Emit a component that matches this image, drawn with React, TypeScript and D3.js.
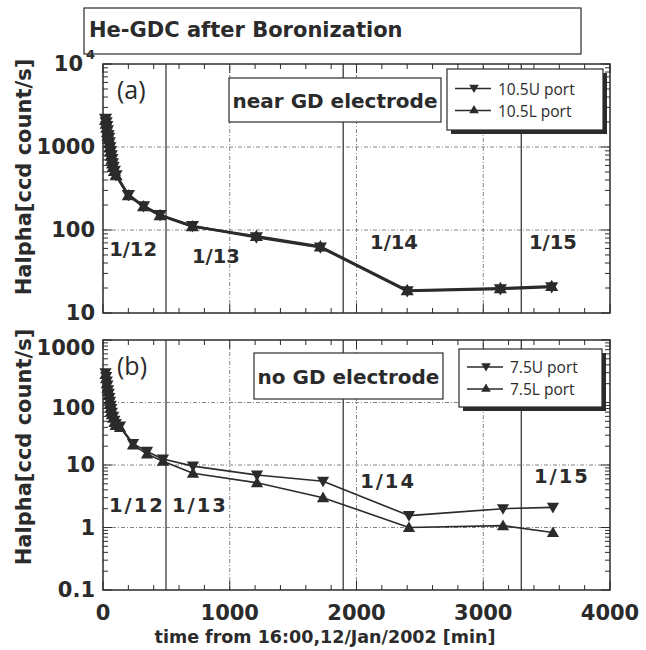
import * as d3 from "d3"
import { useMemo } from "react"

/* ---------------- data ---------------- */

// time from 16:00 12/Jan/2002 [min]
const earlyTimesA = [20, 25, 30, 35, 40, 45, 50, 55, 60, 65, 70, 75, 80, 90, 103]
const lateTimesA = [200, 320, 450, 705, 1210, 1715, 2400, 3135, 3540]
const upperA = [2200, 2000, 1800, 1600, 1400, 1300, 1150, 1000, 900, 800, 720, 640, 580, 520, 460,
  265, 195, 152, 112, 82, 62, 18.4, 19.5, 20.6]
const lowerA = [2100, 1900, 1700, 1500, 1350, 1250, 1100, 980, 870, 780, 700, 630, 570, 510, 455,
  260, 192, 150, 110, 84, 63, 18.7, 19.8, 21]

const earlyTimesB = [20, 25, 30, 35, 40, 45, 50, 55, 60, 65, 70, 80, 90, 100, 134]
const lateTimesB = [237, 347, 473, 710, 1215, 1736, 2414, 3156, 3550]
const upperB = [300, 260, 220, 190, 160, 140, 120, 105, 90, 80, 70, 60, 52, 46, 42,
  22, 16.5, 12.5, 9.6, 6.9, 5.5, 1.55, 2.0, 2.1]
const lowerB = [280, 240, 200, 170, 150, 130, 110, 95, 82, 72, 64, 56, 48, 43, 40,
  21, 15, 11.5, 7.4, 5.2, 3.0, 1.0, 1.07, 0.83]

const dayBounds = [497, 1895, 3300]
const xTicks = [0, 1000, 2000, 3000, 4000]
const dayLabelsA = [
  { text: "1/12", t: 237, v: 59 },
  { text: "1/13", t: 891, v: 48.6 },
  { text: "1/14", t: 2296, v: 71.6 },
  { text: "1/15", t: 3550, v: 71.6 },
]
const dayLabelsB = [
  { text: "1/12", t: 268, v: 2.29 },
  { text: "1/13", t: 765, v: 2.29 },
  { text: "1/14", t: 2249, v: 5.35 },
  { text: "1/15", t: 3621, v: 6.43 },
]
const yTickLabelsA = ["10", "100", "1000", "10"]
const yTickLabelsB = ["0.1", "1", "10", "100", "1000"]

const ink = "#2b2b2b"
const bold = "'DejaVu Sans', sans-serif"

const xScale = d3.scaleLinear().domain([0, 4000]).range([103, 610])

function zip(times: number[], vals: number[]) {
  return times.map((t, i) => ({ t, v: vals[i] }))
}

function Panel({ y, series, dayLabels, tag, note, noteBox, legend, legendBox, lineW, mSize, labelSpacing }: any) {
  const [y0, y1] = y.range()
  const [dMin, dMax] = y.domain()
  const x0 = xScale.range()[0], x1 = xScale.range()[1]

  const decades = d3.range(Math.round(Math.log10(dMin)), Math.round(Math.log10(dMax)) + 1)
  const minor: number[] = []
  decades.slice(0, -1).forEach(d => {
    for (let k = 2; k <= 9; k++) minor.push(k * Math.pow(10, d))
  })
  const xMinor = d3.range(200, 4000, 200).filter(v => v % 1000 !== 0)

  const line = d3.line<any>().x(d => xScale(d.t)).y(d => y(d.v))
  const tri = d3.symbol(d3.symbolTriangle, mSize)()
  const grid = "4,2,1,2"

  return (
    <g>
      {/* grid */}
      {decades.slice(1, -1).map(d => (
        <line key={"gy" + d} x1={x0} x2={x1} y1={y(Math.pow(10, d))} y2={y(Math.pow(10, d))}
          stroke="#666" strokeWidth={0.8} strokeDasharray={grid} />
      ))}
      {xTicks.slice(1, -1).map(v => (
        <line key={"gx" + v} x1={xScale(v)} x2={xScale(v)} y1={y0} y2={y1}
          stroke="#666" strokeWidth={0.8} strokeDasharray={grid} />
      ))}
      {dayBounds.map(v => (
        <line key={"db" + v} x1={xScale(v)} x2={xScale(v)} y1={y0} y2={y1} stroke={ink} strokeWidth={1.2} />
      ))}

      {/* ticks */}
      {minor.map(v => (
        <g key={"my" + v}>
          <line x1={x0} x2={x0 + 5} y1={y(v)} y2={y(v)} stroke={ink} />
          <line x1={x1} x2={x1 - 5} y1={y(v)} y2={y(v)} stroke={ink} />
        </g>
      ))}
      {decades.map(d => (
        <g key={"My" + d}>
          <line x1={x0} x2={x0 + 9} y1={y(Math.pow(10, d))} y2={y(Math.pow(10, d))} stroke={ink} />
          <line x1={x1} x2={x1 - 9} y1={y(Math.pow(10, d))} y2={y(Math.pow(10, d))} stroke={ink} />
        </g>
      ))}
      {xMinor.map(v => (
        <g key={"mx" + v}>
          <line x1={xScale(v)} x2={xScale(v)} y1={y0} y2={y0 - 5} stroke={ink} />
          <line x1={xScale(v)} x2={xScale(v)} y1={y1} y2={y1 + 5} stroke={ink} />
        </g>
      ))}
      {xTicks.map(v => (
        <g key={"Mx" + v}>
          <line x1={xScale(v)} x2={xScale(v)} y1={y0} y2={y0 - 9} stroke={ink} />
          <line x1={xScale(v)} x2={xScale(v)} y1={y1} y2={y1 + 9} stroke={ink} />
        </g>
      ))}

      {/* frame */}
      <rect x={x0} y={y1} width={x1 - x0} height={y0 - y1} fill="none" stroke={ink} strokeWidth={1.5} />

      {/* series */}
      {series.map((s: any, i: number) => (
        <g key={"s" + i}>
          <path d={line(s.data) || ""} fill="none" stroke={ink} strokeWidth={lineW} strokeLinejoin="round" />
          {s.data.map((d: any, j: number) => (
            <path key={j} d={tri} fill={ink}
              transform={`translate(${xScale(d.t)},${y(d.v) + (s.down ? -1 : 1)})${s.down ? " rotate(180)" : ""}`} />
          ))}
        </g>
      ))}

      {/* day labels */}
      {dayLabels.map((l: any) => (
        <text key={l.text} x={xScale(l.t)} y={y(l.v)} textAnchor="middle" dominantBaseline="central"
          fontFamily={bold} fontWeight="bold" fontSize={19.5} fill={ink} letterSpacing={labelSpacing}>{l.text}</text>
      ))}

      <text x={x0 + 14} y={y1 + 35} fontFamily="'Open Sans', sans-serif" fontSize={25} fill={ink}>{tag}</text>

      <rect x={noteBox[0]} y={noteBox[1]} width={noteBox[2]} height={noteBox[3]} fill="#fff" stroke={ink} strokeWidth={1.2} />
      <text x={noteBox[0] + noteBox[2] / 2} y={noteBox[1] + noteBox[3] / 2 + 1} textAnchor="middle" dominantBaseline="central"
        fontFamily={bold} fontWeight="bold" fontSize={20} fill={ink}>{note}</text>

      {/* legend */}
      <rect x={legendBox[0] + 4} y={legendBox[1] + 4} width={legendBox[2]} height={legendBox[3]} fill={ink} />
      <rect x={legendBox[0]} y={legendBox[1]} width={legendBox[2]} height={legendBox[3]} fill="#fff" stroke={ink} strokeWidth={1.2} />
      {legend.map((name: string, i: number) => {
        const ly = legendBox[1] + legendBox[3] / 2 + (i === 0 ? -11 : 11)
        const lx = legendBox[0] + 8
        return (
          <g key={name}>
            <line x1={lx} x2={lx + 36} y1={ly} y2={ly} stroke={ink} strokeWidth={1.3} />
            <path d={d3.symbol(d3.symbolTriangle, 40)() || ""} fill={ink}
              transform={`translate(${lx + 19},${ly + (i === 0 ? -1 : 0)})${i === 0 ? " rotate(180)" : ""}`} />
            <text x={lx + 43} y={ly} dominantBaseline="central" fontFamily="'Open Sans', sans-serif"
              fontSize={15.5} fill={ink}>{name}</text>
          </g>
        )
      })}
    </g>
  )
}

export default function App() {
  const yA = useMemo(() => d3.scaleLog().domain([10, 10000]).range([313, 64]), [])
  const yB = useMemo(() => d3.scaleLog().domain([0.1, 1000]).range([590, 340]), [])

  const seriesA = [
    { down: true, data: zip(earlyTimesA.concat(lateTimesA), upperA) },
    { down: false, data: zip(earlyTimesA.concat(lateTimesA), lowerA) },
  ]
  const seriesB = [
    { down: true, data: zip(earlyTimesB.concat(lateTimesB), upperB) },
    { down: false, data: zip(earlyTimesB.concat(lateTimesB), lowerB) },
  ]

  const tickStyle = { fontFamily: bold, fontWeight: "bold" as const, fontSize: 21, fill: ink }

  return (
    <svg width={646} height={650} style={{ position: "absolute", left: 0, top: 0, background: "#fff" }}>
      <rect width={646} height={650} fill="#fff" />

      {/* title box */}
      <rect x={84} y={8} width={497} height={46} fill="#fff" stroke={ink} strokeWidth={1.2} />
      <text x={89} y={30} dominantBaseline="central" fontFamily={bold} fontWeight="bold" fontSize={21} fill={ink}>
        He-GDC after Boronization
      </text>

      <Panel y={yA} series={seriesA} dayLabels={dayLabelsA} tag="(a)" note="near GD electrode"
        noteBox={[229, 78, 212, 44]} legend={["10.5U port", "10.5L port"]} legendBox={[447, 69, 156, 61]}
        lineW={2.6} mSize={75} labelSpacing={0} />
      <Panel y={yB} series={seriesB} dayLabels={dayLabelsB} tag="(b)" note="no GD electrode"
        noteBox={[254, 353, 189, 46]} legend={["7.5U port", "7.5L port"]} legendBox={[459, 349, 143, 58]}
        lineW={1.6} mSize={65} labelSpacing={2} />

      {/* y tick labels */}
      {[10, 100, 1000].map((v, i) => (
        <text key={"ta" + v} x={95} y={yA(v)} textAnchor="end" dominantBaseline="central" {...tickStyle}>{yTickLabelsA[i]}</text>
      ))}
      <text x={83} y={yA(10000)} textAnchor="end" dominantBaseline="central" {...tickStyle}>{yTickLabelsA[3]}</text>
      <text x={86} y={yA(10000) - 10} dominantBaseline="central" fontFamily={bold} fontWeight="bold" fontSize={13} fill={ink}>4</text>
      {[0.1, 1, 10, 100, 1000].map((v, i) => (
        <text key={"tb" + v} x={95} y={yB(v) + (v === 1000 ? 8 : v === 100 ? 5 : 0)} textAnchor="end" dominantBaseline="central" {...tickStyle}>{yTickLabelsB[i]}</text>
      ))}

      {/* x tick labels */}
      {xTicks.map(v => (
        <text key={"tx" + v} x={xScale(v)} y={613} textAnchor="middle" dominantBaseline="central" {...tickStyle}>{v}</text>
      ))}
      <text x={325} y={637} textAnchor="middle" dominantBaseline="central" fontFamily={bold} fontWeight="bold"
        fontSize={17.5} fill={ink}>time from 16:00,12/Jan/2002 [min]</text>

      {/* y axis titles */}
      {[177, 447].map(cy => (
        <text key={"yt" + cy} transform={`translate(24,${cy}) rotate(-90)`} textAnchor="middle" dominantBaseline="central"
          fontFamily={bold} fontWeight="bold" fontSize={21} fill={ink}>Halpha[ccd count/s]</text>
      ))}
    </svg>
  )
}
